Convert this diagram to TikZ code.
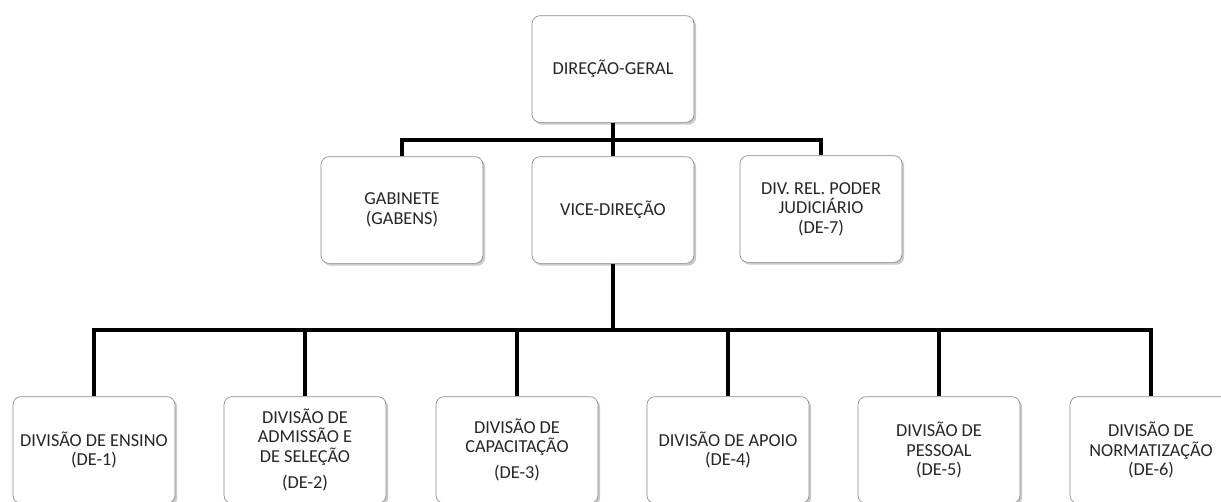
\documentclass[tikz,border=0pt]{standalone}
\usepackage{fontspec}
\setmainfont{Carlito}
\usetikzlibrary{shadows}

\tikzset{
  unitbox/.style={rectangle, rounded corners=6pt, draw=black!45, line width=0.5pt,
    fill=white, minimum width=121.5pt, minimum height=80pt, align=center,
    text=black!85, font=\fontsize{13.7}{14.6}\selectfont,
    drop shadow={shadow xshift=1.6pt, shadow yshift=-1.8pt, opacity=0.35, fill=black!60}},
  orgline/.style={line width=3pt, black}
}

\begin{document}
\begin{tikzpicture}[x=0.75pt, y=-0.75pt]
	\clip (0,0) rectangle (1221,501);
	
	% Top level
	\node[unitbox] (dg) at (613,69) {DIREÇÃO-GERAL};
	
	% Second level
	\node[unitbox] (gab) at (402,210) {GABINETE\\(GABENS)};
	\node[unitbox] (vd) at (613,210) {VICE-DIREÇÃO};
	\node[unitbox] (de7) at (821,209) {DIV. REL. PODER\\JUDICIÁRIO\\(DE-7)};
	
	% Divisions
	\node[unitbox] (de1) at (94,450) {DIVISÃO DE ENSINO\\(DE-1)};
	\node[unitbox] (de2) at (305,450) {DIVISÃO DE\\ADMISSÃO E\\DE SELEÇÃO\\[5pt](DE-2)};
	\node[unitbox] (de3) at (517,450) {DIVISÃO DE\\CAPACITAÇÃO\\[5pt](DE-3)};
	\node[unitbox] (de4) at (728,450) {DIVISÃO DE APOIO\\(DE-4)};
	\node[unitbox] (de5) at (939,450) {DIVISÃO DE\\PESSOAL\\(DE-5)};
	\node[unitbox] (de6) at (1151,450) {DIVISÃO DE\\NORMATIZAÇÃO\\(DE-6)};
	
	% Bars
	\coordinate (topbar) at (613,140);
	\coordinate (lowbar) at (613,330);
	
	% Connectors
	\draw[orgline] (dg.south) -- (vd.north);
	\draw[orgline] (gab.north) |- (topbar) -| (de7.north);
	\draw[orgline] (vd.south) -- (lowbar);
	\draw[orgline] (de1.north) |- (lowbar) -| (de6.north);
	\foreach \d in {de2,de3,de4,de5}
		\draw[orgline] (\d.north) -- (\d.north |- lowbar);
\end{tikzpicture}
\end{document}
